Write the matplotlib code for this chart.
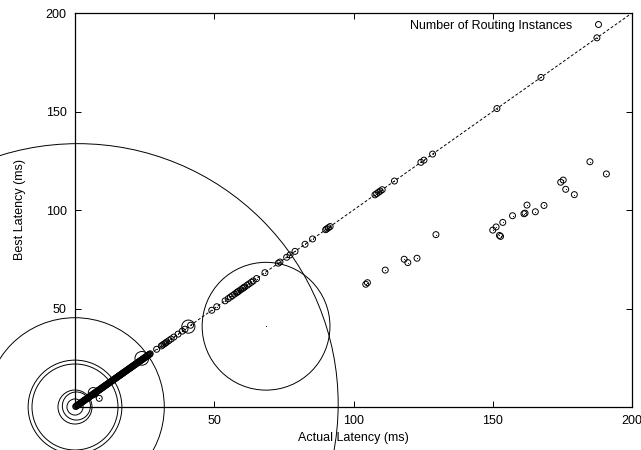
import matplotlib
matplotlib.use("Agg")
import matplotlib.pyplot as plt
from matplotlib.lines import Line2D


# requests where the chosen route already was the best one (best == actual)
matched_latency = [
    0.25, 0.5, 0.75, 1.0, 1.25, 1.5, 1.75, 2.0, 2.25, 2.5, 2.75, 3.0,
    3.25, 3.5, 3.75, 4.0, 4.25, 4.5, 4.75, 5.0, 5.25, 5.5, 5.75, 6.0,
    6.25, 6.5, 6.75, 7.0, 7.25, 7.5, 7.75, 8.0, 8.25, 8.5, 8.75, 9.0,
    9.25, 9.5, 9.75, 10.0, 10.25, 10.5, 10.75, 11.0, 11.25, 11.5, 11.75,
    12.0, 12.25, 12.5, 12.75, 13.0, 13.25, 13.5, 13.75, 14.0, 14.25,
    14.5, 14.75, 15.0, 15.25, 15.5, 15.75, 16.0, 16.25, 16.5, 16.75,
    17.0, 17.25, 17.5, 17.75, 18.0, 18.25, 18.5, 18.75, 19.0, 19.25,
    19.5, 19.75, 20.0, 20.25, 20.5, 20.75, 21.0, 21.25, 21.5, 21.75,
    22.0, 22.25, 22.5, 22.75, 23.0, 23.25, 23.5, 23.75, 24.0, 24.25,
    24.5, 24.75, 25.0, 25.25, 25.5, 25.75, 26.0, 26.25, 26.5, 26.75,
    27.0, 29.3, 31.0, 31.5, 32.0, 32.5, 33.0, 33.7, 34.5, 35.5, 37.0,
    38.5, 39.5, 41.5, 49.1, 50.9, 53.9, 55.0, 55.8, 56.5, 57.3, 58.0,
    58.4, 58.8, 59.5, 60.2, 60.6, 61.0, 61.8, 62.5, 63.3, 64.0, 65.2,
    68.2, 73.0, 73.6, 76.0, 77.2, 79.0, 82.6, 85.3, 90.0, 90.4, 91.0,
    91.6, 107.7, 108.3, 109.0, 109.6, 110.3, 114.7, 124.2, 125.3, 128.4,
    151.5, 167.3, 187.4,
]

# requests that could have used a faster route
detour_actual = [
    8.7, 104.4, 105.0, 111.4, 118.2, 119.5, 122.8, 129.6, 150.0, 151.2,
    152.4, 152.8, 153.6, 157.1, 161.2, 161.6, 162.3, 165.3, 168.4, 174.4,
    175.3, 176.2, 179.3, 184.9, 190.8,
]
detour_best = [
    4.4, 62.3, 63.1, 69.5, 75.0, 73.3, 75.5, 87.5, 89.8, 91.4,
    87.1, 86.6, 93.7, 97.1, 98.1, 98.4, 102.5, 99.1, 102.3, 114.1,
    115.2, 110.5, 107.8, 124.5, 118.3,
]

# points carrying many routing instances (drawn as big circles)
heavy_actual = [1.0, 0.0, 0.0, 0.0, 0.0, 0.5, 0.0, 6.6, 24.0, 40.7, 68.6]
heavy_best = [1.5, 0.0, 0.0, 0.0, 0.0, 0.5, 0.0, 7.3, 24.7, 40.8, 41.0]
heavy_instances = [87.2, 29.9, 15.7, 14.4, 5.7, 4.7, 2.7, 1.7, 2.3, 2.2, 21.4]

ticks = [50, 100, 150, 200]

FONT = "Liberation Sans"
FS = 9
MARKER_PT = 4.3  # marker diameter (pt) for one routing instance


def circles(ax, xs, ys, counts):
    sizes = [(MARKER_PT * c) ** 2 for c in counts]
    ax.scatter(xs, ys, s=sizes, facecolors="none", edgecolors="black",
               linewidths=0.7, clip_on=False, zorder=3)
    ax.scatter(xs, ys, s=0.6, color="black", linewidths=0,
               clip_on=False, zorder=3)


def main():
    plt.rcParams["font.family"] = [FONT, "DejaVu Sans"]

    fig = plt.figure(figsize=(6.41, 4.5), dpi=100)
    ax = fig.add_axes([75 / 641, 43 / 450, 557 / 641, 394 / 450])

    ax.plot([0, 200], [0, 200], color="black", linewidth=0.7,
            linestyle=(0, (3, 2)), zorder=2)

    circles(ax, matched_latency, matched_latency, [1] * len(matched_latency))
    circles(ax, detour_actual, detour_best, [1] * len(detour_actual))
    circles(ax, heavy_actual, heavy_best, heavy_instances)

    ax.set_xlim(0, 200)
    ax.set_ylim(0, 200)
    ax.set_xticks(ticks)
    ax.set_yticks(ticks)
    ax.tick_params(direction="in", length=4, width=0.7, top=True,
                   right=True, labelsize=FS, pad=6)
    for spine in ax.spines.values():
        spine.set_linewidth(0.9)

    ax.set_xlabel("Actual Latency (ms)", fontsize=FS, labelpad=3)
    ax.set_ylabel("Best Latency (ms)", fontsize=FS, labelpad=14)

    handle = Line2D([], [], marker="o", linestyle="none", markersize=MARKER_PT,
                    markerfacecolor="none", markeredgecolor="black",
                    markeredgewidth=0.7)
    ax.legend([handle], ["Number of Routing Instances"], loc="upper right",
              bbox_to_anchor=(0.955, 0.983), borderaxespad=0, borderpad=0,
              markerfirst=False, frameon=False, handlelength=1.5,
              handletextpad=1.3, fontsize=FS)

    fig.savefig("out.png", dpi=100)
    plt.close(fig)


if __name__ == "__main__":
    main()
